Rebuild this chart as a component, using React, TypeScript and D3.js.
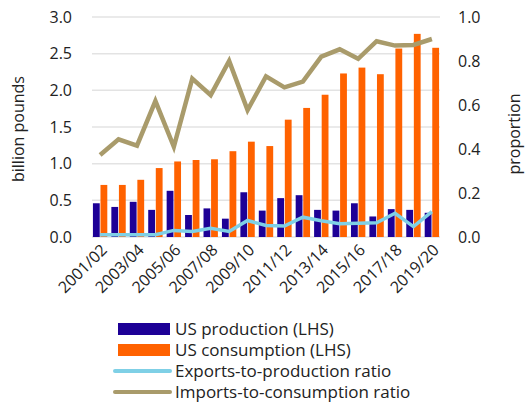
import React from 'react';
import * as d3 from 'd3';

const years = [
  '2001/02', '2002/03', '2003/04', '2004/05', '2005/06', '2006/07', '2007/08',
  '2008/09', '2009/10', '2010/11', '2011/12', '2012/13', '2013/14', '2014/15',
  '2015/16', '2016/17', '2017/18', '2018/19', '2019/20',
];
const production = [0.46, 0.41, 0.48, 0.37, 0.63, 0.30, 0.39, 0.25, 0.61, 0.36,
  0.53, 0.57, 0.37, 0.36, 0.46, 0.28, 0.38, 0.37, 0.33];
const consumption = [0.71, 0.71, 0.78, 0.94, 1.03, 1.05, 1.06, 1.17, 1.30, 1.24,
  1.60, 1.76, 1.94, 2.23, 2.31, 2.22, 2.57, 2.77, 2.58];
const exportsRatio = [0.01, 0.01, 0.01, 0.01, 0.03, 0.025, 0.04, 0.025, 0.075, 0.052,
  0.05, 0.09, 0.074, 0.06, 0.062, 0.065, 0.108, 0.047, 0.115];
const importsRatio = [0.373, 0.444, 0.415, 0.618, 0.41, 0.72, 0.645, 0.80, 0.577, 0.73,
  0.68, 0.706, 0.82, 0.853, 0.81, 0.89, 0.87, 0.873, 0.90];
const leftTicks = [0, 0.5, 1, 1.5, 2, 2.5, 3];
const rightTicks = [0, 0.2, 0.4, 0.6, 0.8, 1];
const legendItems = [
  { label: 'US production (LHS)', color: '#1d0096', kind: 'bar' },
  { label: 'US consumption (LHS)', color: '#ff6200', kind: 'bar' },
  { label: 'Exports-to-production ratio', color: '#7fd0e6', kind: 'line' },
  { label: 'Imports-to-consumption ratio', color: '#a99b6b', kind: 'line' },
];

const font = '"Open Sans", "Noto Sans", sans-serif';

export default function App() {
  const left = 92, right = 440, top = 17, bottom = 237;
  const x = d3.scaleBand().domain(years).range([left, right]).paddingInner(0.22).paddingOuter(0.05);
  const inner = d3.scaleBand().domain(['p', 'c']).range([0, x.bandwidth()]).paddingInner(0.1);
  const yL = d3.scaleLinear().domain([0, 3]).range([bottom, top]);
  const yR = d3.scaleLinear().domain([0, 1]).range([bottom, top]);
  const cx = (d: string) => (x(d) as number) + x.bandwidth() / 2;
  const line = (vals: number[]) =>
    d3.line<number>().x((_, i) => cx(years[i])).y(v => yR(v))(vals) as string;

  return (
    <svg width={527} height={403} style={{ position: 'absolute', left: 0, top: 0 }} fontFamily={font}>
      {leftTicks.map(t => (
        <g key={'g' + t}>
          <line x1={left} x2={right} y1={yL(t)} y2={yL(t)} stroke="#e3e3e3" strokeWidth={1.5} />
          <text x={72} y={yL(t)} dy="0.35em" textAnchor="end" fontSize={16} fill="#222">{t.toFixed(1)}</text>
        </g>
      ))}
      {rightTicks.map(t => (
        <text key={'r' + t} x={458} y={yR(t)} dy="0.35em" fontSize={16} fill="#222">{t.toFixed(1)}</text>
      ))}
      {years.map((yr, i) => (
        <g key={yr}>
          <rect x={(x(yr) as number) + (inner('p') as number)} width={inner.bandwidth()}
            y={yL(production[i])} height={bottom - yL(production[i])} fill={legendItems[0].color} />
          <rect x={(x(yr) as number) + (inner('c') as number)} width={inner.bandwidth()}
            y={yL(consumption[i])} height={bottom - yL(consumption[i])} fill={legendItems[1].color} />
        </g>
      ))}
      <path d={line(importsRatio)} fill="none" stroke={legendItems[3].color} strokeWidth={4.5} strokeLinejoin="miter" />
      <path d={line(exportsRatio)} fill="none" stroke={legendItems[2].color} strokeWidth={3.5} />
      {years.filter((_, i) => i % 2 === 0).map(yr => (
        <text key={'x' + yr} transform={`translate(${cx(yr) + 4},${bottom + 10}) rotate(-45)`}
          textAnchor="end" dy="0.35em" fontSize={16} fill="#222">{yr}</text>
      ))}
      <text transform={`translate(24,129) rotate(-90)`} textAnchor="middle" fontSize={16} fill="#222">billion pounds</text>
      <text transform={`translate(520,134) rotate(-90)`} textAnchor="middle" fontSize={16} fill="#222">proportion</text>
      {legendItems.map((it, i) => {
        const yy = 329 + i * 21;
        return (
          <g key={it.label}>
            {it.kind === 'bar'
              ? <rect x={118} y={yy - 6} width={52} height={12} fill={it.color} />
              : <line x1={115} x2={170} y1={yy} y2={yy} stroke={it.color} strokeWidth={4} strokeLinecap="round" />}
            <text x={175} y={yy} dy="0.35em" fontSize={17} fill="#222">{it.label}</text>
          </g>
        );
      })}
    </svg>
  );
}
